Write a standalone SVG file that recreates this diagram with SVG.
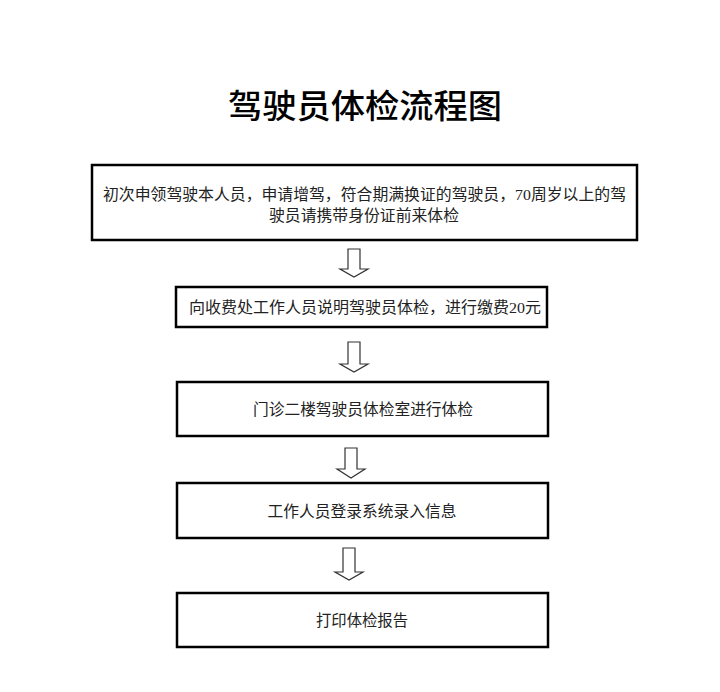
<svg xmlns="http://www.w3.org/2000/svg" width="720" height="692" viewBox="0 0 720 692">
<style>
.box{fill:#fff;stroke:#000;stroke-width:2.5}
.t{font-family:"Liberation Serif","Noto Sans CJK SC",serif;font-size:15.5px;fill:#222;text-anchor:middle}
.title{font-family:"Noto Sans CJK SC",sans-serif;font-size:33px;font-weight:500;fill:#000;text-anchor:middle}
.arr{fill:#fff;stroke:#333;stroke-width:1.2;stroke-linejoin:miter}
</style>
<rect width="720" height="692" fill="#fff"/>
<text class="title" x="365" y="118" textLength="274" lengthAdjust="spacingAndGlyphs">驾驶员体检流程图</text>
<g id="connectors">
<polygon class="arr" points="348,249 360,249 360,269 368,269 354,277 340,269 348,269"/>
<polygon class="arr" points="348,342 360,342 360,364 368,364 354,372 340,364 348,364"/>
<polygon class="arr" points="345,448 357,448 357,469 365,469 351,478 337,469 345,469"/>
<polygon class="arr" points="343,548 355,548 355,572 363,572 349,580 335,572 343,572"/>
</g>
<g id="n1">
<rect class="box" x="92" y="165" width="545" height="75"/>
<text class="t" x="364.5" y="200" textLength="523" lengthAdjust="spacingAndGlyphs">初次申领驾驶本人员，申请增驾，符合期满换证的驾驶员，70周岁以上的驾</text>
<text class="t" x="364" y="221" textLength="190" lengthAdjust="spacingAndGlyphs">驶员请携带身份证前来体检</text>
</g>
<g id="n2">
<rect class="box" x="176" y="287" width="371" height="40"/>
<text class="t" x="365" y="313" textLength="352" lengthAdjust="spacingAndGlyphs">向收费处工作人员说明驾驶员体检，进行缴费20元</text>
</g>
<g id="n3">
<rect class="box" x="177" y="382" width="371" height="54"/>
<text class="t" x="363" y="415" textLength="220" lengthAdjust="spacingAndGlyphs">门诊二楼驾驶员体检室进行体检</text>
</g>
<g id="n4">
<rect class="box" x="177" y="483" width="371" height="55"/>
<text class="t" x="362" y="517" textLength="189" lengthAdjust="spacingAndGlyphs">工作人员登录系统录入信息</text>
</g>
<g id="n5">
<rect class="box" x="177" y="593" width="371" height="54"/>
<text class="t" x="362" y="626" textLength="92" lengthAdjust="spacingAndGlyphs">打印体检报告</text>
</g>
</svg>
